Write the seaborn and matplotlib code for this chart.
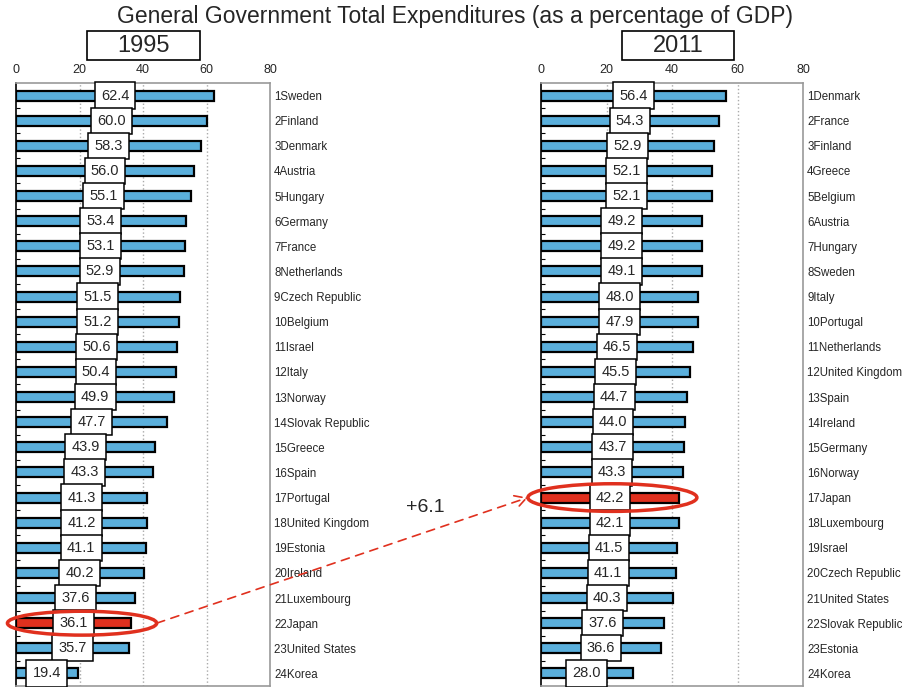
import matplotlib
matplotlib.use("Agg")
import matplotlib.pyplot as plt
import seaborn as sns
import pandas as pd
from matplotlib.patches import Ellipse, ConnectionPatch, Rectangle

countries_1995 = ["Sweden", "Finland", "Denmark", "Austria", "Hungary", "Germany", "France",
                  "Netherlands", "Czech Republic", "Belgium", "Israel", "Italy", "Norway",
                  "Slovak Republic", "Greece", "Spain", "Portugal", "United Kingdom", "Estonia",
                  "Ireland", "Luxembourg", "Japan", "United States", "Korea"]
values_1995 = [62.4, 60.0, 58.3, 56.0, 55.1, 53.4, 53.1, 52.9, 51.5, 51.2, 50.6, 50.4, 49.9,
               47.7, 43.9, 43.3, 41.3, 41.2, 41.1, 40.2, 37.6, 36.1, 35.7, 19.4]

countries_2011 = ["Denmark", "France", "Finland", "Greece", "Belgium", "Austria", "Hungary",
                  "Sweden", "Italy", "Portugal", "Netherlands", "United Kingdom", "Spain",
                  "Ireland", "Germany", "Norway", "Japan", "Luxembourg", "Israel",
                  "Czech Republic", "United States", "Slovak Republic", "Estonia", "Korea"]
values_2011 = [56.4, 54.3, 52.9, 52.1, 52.1, 49.2, 49.2, 49.1, 48.0, 47.9, 46.5, 45.5, 44.7,
               44.0, 43.7, 43.3, 42.2, 42.1, 41.5, 41.1, 40.3, 37.6, 36.6, 28.0]

x_ticks = [0, 20, 40, 60, 80]
title = "General Government Total Expenditures (as a percentage of GDP)"
years = ["1995", "2011"]
change_label = "+6.1"

BLUE = "#5aafdc"
RED = "#e0301e"

sns.set_theme(style="white")
plt.rcParams["font.family"] = ["Liberation Sans", "DejaVu Sans"]

fig = plt.figure(figsize=(9.1, 6.87), dpi=100)
axL = fig.add_axes([16 / 910, 1 - 686 / 687, 254 / 910, (686 - 83) / 687])
axR = fig.add_axes([541 / 910, 1 - 686 / 687, 262 / 910, (686 - 83) / 687])


def draw(ax, countries, values):
    labels = [f"{i + 1}{c}" for i, c in enumerate(countries)]
    df = pd.DataFrame({"label": labels, "value": values})
    pal = {l: (RED if c == "Japan" else BLUE) for l, c in zip(labels, countries)}
    sns.barplot(data=df, x="value", y="label", hue="label", palette=pal, legend=False,
                ax=ax, orient="h", width=0.4, edgecolor="black", linewidth=1.6,
                saturation=1)
    ax.set_xlim(0, 80)
    ax.set_ylim(len(labels) - 0.5, -0.5)
    ax.set_xticks(x_ticks)
    ax.xaxis.tick_top()
    ax.tick_params(axis="x", length=0, labelsize=9, pad=5)
    ax.set_xlabel("")
    ax.set_ylabel("")
    ax.tick_params(axis="y", which="major", left=False, right=False, labelleft=False,
                   labelright=True, labelsize=8.3, pad=3, length=0)
    ax.set_yticks([i + 0.5 for i in range(len(labels) - 1)], minor=True)
    ax.tick_params(axis="y", which="minor", left=True, direction="in", length=3,
                   width=0.8, color="black")
    for x in x_ticks[1:-1]:
        ax.axvline(x, color="#aaaaaa", linestyle=":", linewidth=1, zorder=0)
    for s in ["top", "right", "bottom"]:
        ax.spines[s].set_color("#999999")
        ax.spines[s].set_linewidth(1.2)
    ax.spines["left"].set_color("black")
    ax.spines["left"].set_linewidth(1.2)
    for i, v in enumerate(values):
        ax.text(v / 2, i, f"{v:.1f}", ha="center", va="center", fontsize=10.5, zorder=5,
                bbox=dict(boxstyle="square,pad=0.42", fc="white", ec="black", lw=1.1))


draw(axL, countries_1995, values_1995)
draw(axR, countries_2011, values_2011)

fig.text(0.5, 1 - 17 / 687, title, ha="center", va="center", fontsize=16.5)
for (x0, x1), yr in zip([(87, 200), (622, 734)], years):
    fig.add_artist(Rectangle((x0 / 910, 1 - 60 / 687), (x1 - x0) / 910, 29 / 687,
                             transform=fig.transFigure, fc="white", ec="black", lw=1.2))
    fig.text((x0 + x1) / 2 / 910, 1 - 46 / 687, yr, ha="center", va="center", fontsize=17)

jL = countries_1995.index("Japan")
jR = countries_2011.index("Japan")
eL = Ellipse((20.8, jL), 47, 0.95, fill=False, ec=RED, lw=2.5, clip_on=False, zorder=6)
axL.add_patch(eL)
eR = Ellipse((21.8, jR), 51.6, 1.1, fill=False, ec=RED, lw=2.5, clip_on=False, zorder=6)
axR.add_patch(eR)

con = ConnectionPatch(xyA=(20.8 + 23.5, jL), coordsA=axL.transData,
                      xyB=(21.8 - 25.8, jR), coordsB=axR.transData,
                      arrowstyle="->,head_length=0.8,head_width=0.45", color=RED,
                      linestyle=(0, (5, 4)), lw=1.2, zorder=7)
fig.add_artist(con)
fig.text(425 / 910, 1 - 507 / 687, change_label, ha="center", va="center", fontsize=14)

fig.savefig("out.png", dpi=100)
